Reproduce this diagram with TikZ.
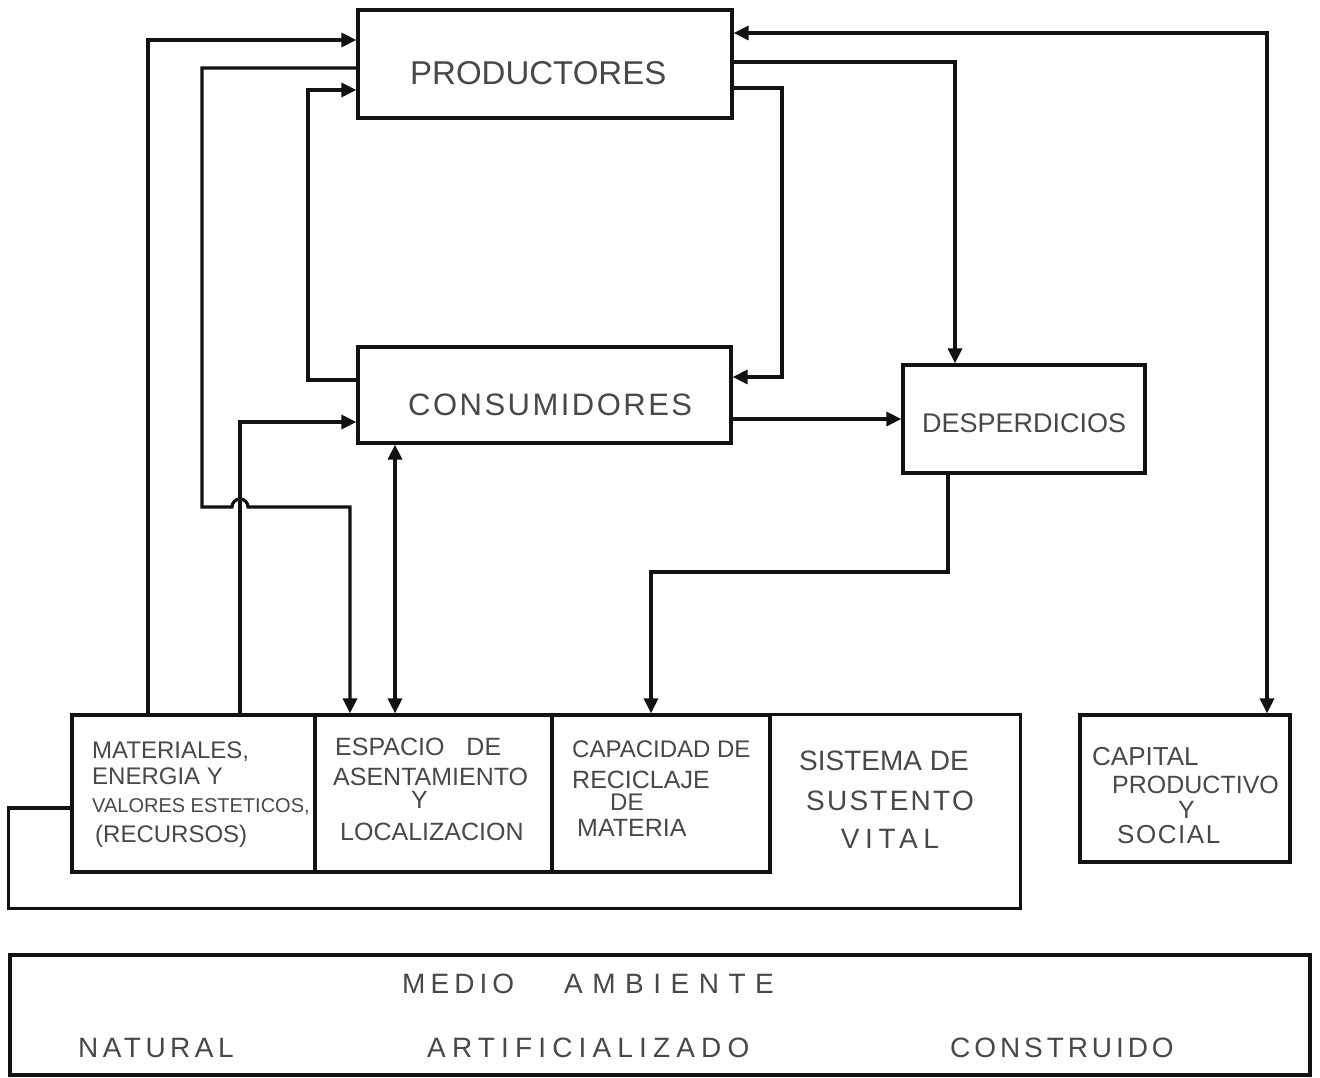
\documentclass[tikz,border=0pt]{standalone}
\usepackage{fontspec}
\setmainfont{Liberation Sans}
\usetikzlibrary{arrows.meta}
\definecolor{ink}{RGB}{18,18,18}
\definecolor{pencil}{RGB}{72,72,72}
\newcommand\hsz[1]{\fontsize{#1}{#1}\selectfont}
\newcommand\lsp[1]{\addfontfeatures{LetterSpace=#1}}
\begin{document}
\begin{tikzpicture}[x=1pt,y=-1pt,
  >={Triangle[length=15pt,width=14pt]},
  box/.style={draw=ink,line width=3.2pt,inner sep=0pt},
  ghost/.style={draw=none,inner sep=0pt},
  wire/.style={draw=ink,line width=3.2pt},
  lbl/.style={text=pencil,inner sep=0pt,anchor=base west},
  clbl/.style={text=pencil,inner sep=0pt,anchor=base}]
\useasboundingbox (0,0) rectangle (1320,1078);

% main boxes
\node[box,minimum width=374,minimum height=108] (P) at (545,64) {};
\node[box,minimum width=373,minimum height=96] (C) at (544.5,395) {};
\node[box,minimum width=242,minimum height=108] (D) at (1024,419) {};
% bottom row
\node[box,minimum width=243,minimum height=157] (mat) at (193.5,793.5) {};
\node[box,minimum width=237,minimum height=157] (esp) at (433.5,793.5) {};
\node[box,minimum width=218,minimum height=157] (cpd) at (661,793.5) {};
\node[ghost,minimum width=250,minimum height=193] (sis) at (895,811.5) {};
\node[box,minimum width=210,minimum height=147] (cap) at (1185,788.5) {};
\node[box,minimum width=1300,minimum height=120] (ma) at (660,1015) {};

% outer frame of the environment block
\draw[wire] ([yshift=-14.5]mat.west) -- ++(-62,0) |- (sis.south east) -- (sis.north east) -- (sis.north west);

% helper coordinates
\coordinate (j1) at (202,507);
\coordinate (j2) at (232,507);
\coordinate (j3) at (350,507);
\coordinate (k1) at (308,200);
\coordinate (k2) at (782,200);
\coordinate (r1) at (800,572);

% connectors
\draw[wire,->] ([xshift=-45.5]mat.north) |- ([yshift=24]P.west);
\draw[wire,->] ([yshift=-4]P.west) -| (j1) -- (j2) arc[start angle=180,end angle=0,radius=8pt] -- (j3) -- ([xshift=-83.5]esp.north);
\draw[wire,->] ([xshift=46.5]mat.north) |- ([yshift=-27]C.west);
\draw[wire,->] ([yshift=15]C.west) -| (k1) |- ([yshift=-26]P.west);
\draw[wire,<->] ([xshift=-149.5]C.south) -- ([xshift=-38.5]esp.north);
\draw[wire,->] ([yshift=-24]P.east) -| (k2) |- ([yshift=18]C.east);
\draw[wire,->] ([yshift=2]P.east) -| ([xshift=-69]D.north);
\draw[wire,<->] ([yshift=31]P.east) -| ([xshift=82]cap.north);
\draw[wire,->] ([yshift=-24]C.east) -- (D.west);
\draw[wire,->] ([xshift=-76]D.south) |- (r1) -| ([xshift=-10]cpd.north);

% labels
\node[lbl,font=\hsz{33}] (tP) at (410,85) {PRODUCTORES};
\node[lbl,font=\lsp{8}\hsz{31}] (tC) at (408,415) {CONSUMIDORES};
\node[lbl,font=\hsz{27}] (tD) at (922,432) {DESPERDICIOS};

\node[lbl,font=\hsz{24}] (m1) at (92,758) {MATERIALES,};
\node[lbl,font=\hsz{24}] (m2) at (92,784) {ENERGIA Y};
\node[lbl,font=\hsz{20}] (m3) at (92,812) {VALORES ESTETICOS,};
\node[lbl,font=\hsz{24}] (m4) at (95,842) {(RECURSOS)};

\node[lbl,font=\hsz{25}] (e1) at (335,755) {ESPACIO\hspace{22pt}DE};
\node[lbl,font=\hsz{25}] (e2) at (333,785) {ASENTAMIENTO};
\node[lbl,font=\hsz{25}] (e3) at (411,808) {Y};
\node[lbl,font=\hsz{25}] (e4) at (340,840) {LOCALIZACION};

\node[lbl,font=\hsz{24}] (c1) at (572,757) {CAPACIDAD DE};
\node[lbl,font=\hsz{25}] (c2) at (572,788) {RECICLAJE};
\node[lbl,font=\hsz{24}] (c3) at (610,810) {DE};
\node[lbl,font=\hsz{25}] (c4) at (577,836) {MATERIA};

\node[clbl,font=\hsz{28}] (s1) at (884,770) {SISTEMA DE};
\node[clbl,font=\lsp{8}\hsz{28}] (s2) at (890,810) {SUSTENTO};
\node[clbl,font=\lsp{20}\hsz{28}] (s3) at (890,848) {VITAL};

\node[lbl,font=\hsz{26}] (q1) at (1092,765) {CAPITAL};
\node[lbl,font=\hsz{25}] (q2) at (1112,793) {PRODUCTIVO};
\node[lbl,font=\hsz{25}] (q3) at (1178,818) {Y};
\node[lbl,font=\lsp{6}\hsz{26}] (q4) at (1117,843) {SOCIAL};

\node[lbl,font=\hsz{28}] (t1) at (402,993) {{\lsp{18}\hsz{28}MEDIO}\hspace{50pt}{\lsp{34}\hsz{28}AMBIENTE}};
\node[lbl,font=\lsp{16}\hsz{28}] (t2) at (78,1057) {NATURAL};
\node[lbl,font=\lsp{22}\hsz{28}] (t3) at (427,1057) {ARTIFICIALIZADO};
\node[lbl,font=\lsp{14}\hsz{28}] (t4) at (950,1057) {CONSTRUIDO};
\end{tikzpicture}
\end{document}
